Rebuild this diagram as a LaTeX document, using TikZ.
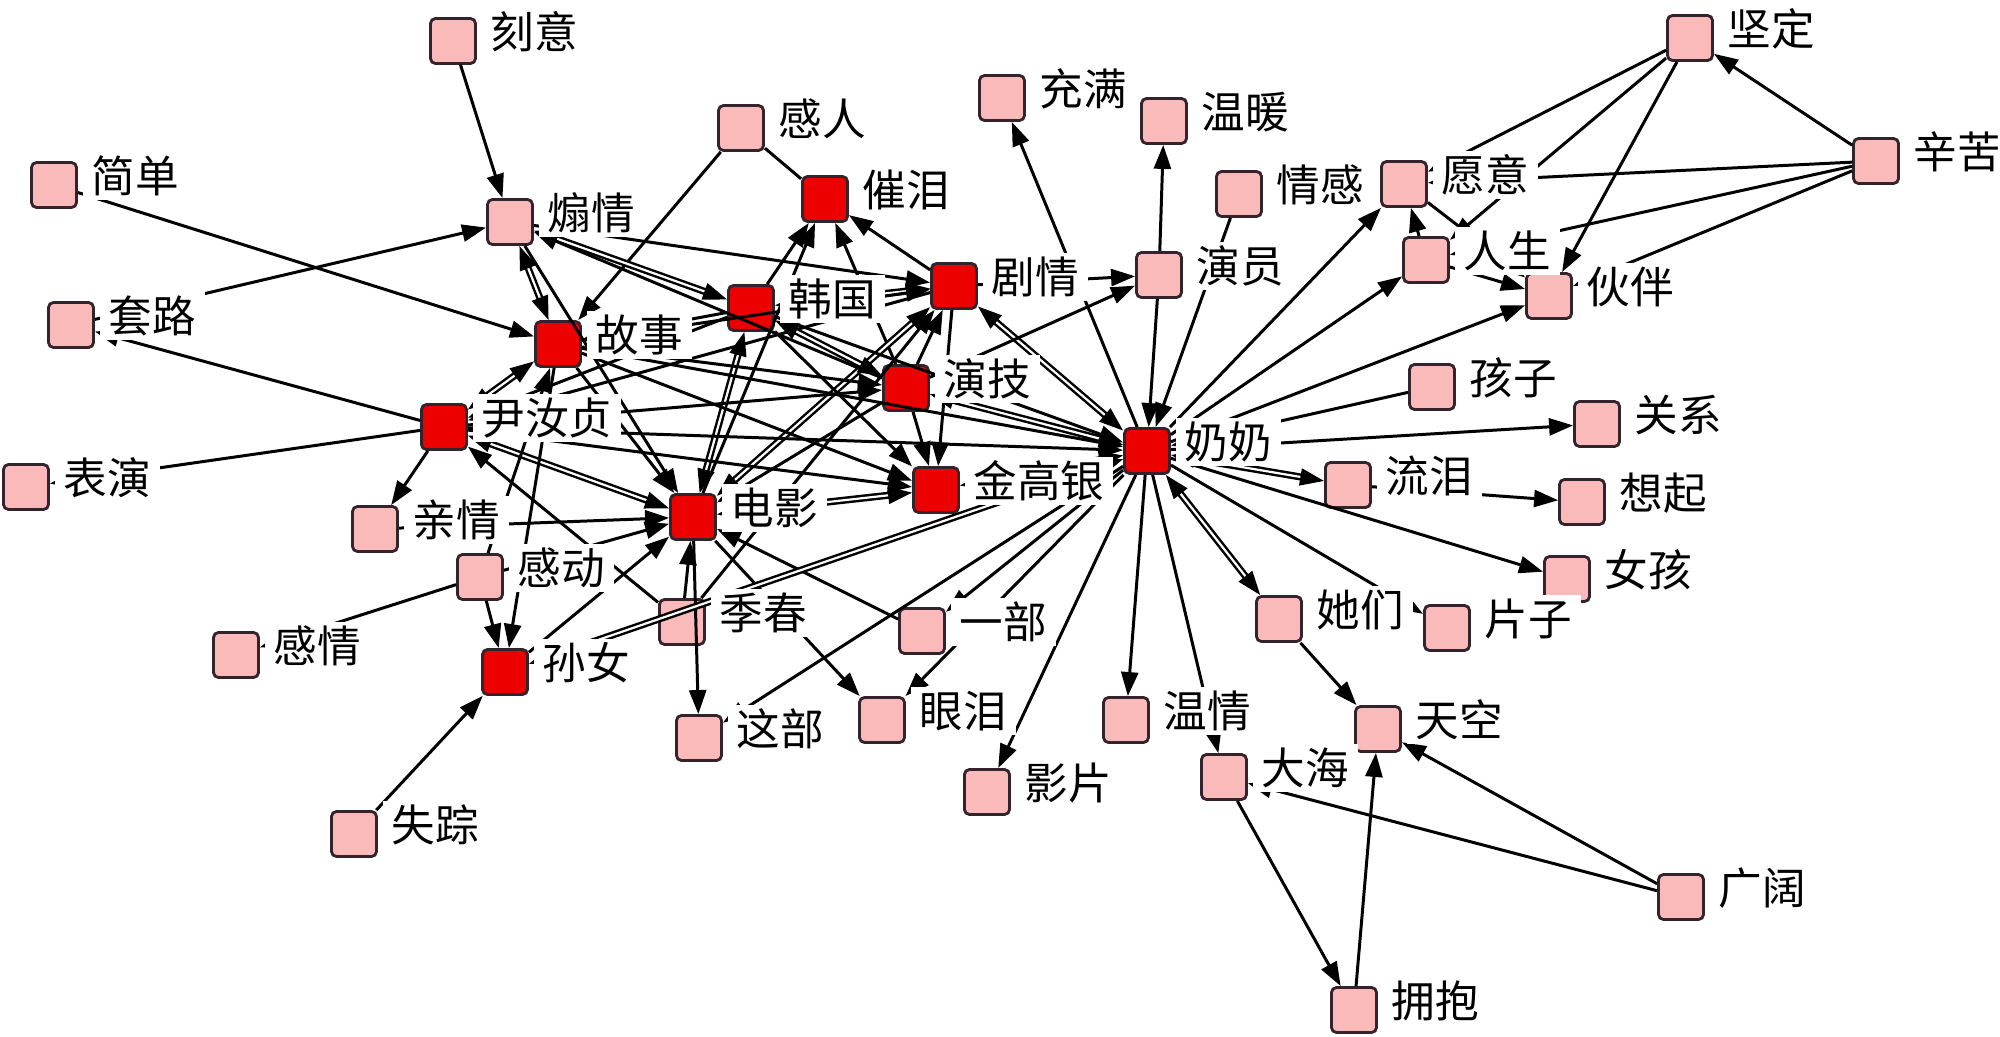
\documentclass[tikz,border=0pt]{standalone}
\usepackage{fontspec}
\newfontfamily\cjk{Noto Sans CJK SC}
\usetikzlibrary{arrows.meta}
\definecolor{pk}{RGB}{250,186,186}
\definecolor{rd}{RGB}{236,0,0}
\definecolor{bd}{RGB}{50,35,45}
\newcommand\lab[2]{\node[lbl] (#1-l) at ([xshift=0.04cm,yshift=0.09cm]#1.east) {#2};}
\begin{document}
\begin{tikzpicture}[x=0.01cm,y=-0.01cm,
  nd/.style={rectangle,draw=bd,line width=0.8pt,rounded corners=0.05cm,minimum size=0.45cm,inner sep=0,fill=pk},
  hub/.style={nd,fill=rd},
  lbl/.style={anchor=west,fill=white,inner xsep=0.09cm,inner ysep=0.04cm,font=\cjk\fontsize{12.4pt}{13pt}\selectfont,text=black},
  e/.style={-{Triangle[length=0.24cm,width=0.17cm]},line width=0.85pt,black},
  ep/.style={line width=0.85pt,black},
  ed/.style={{Triangle[length=0.24cm,width=0.17cm]}-{Triangle[length=0.24cm,width=0.17cm]},line width=0.7pt,double=white,double distance=0.022cm},
]
\useasboundingbox[fill=white] (0,0) rectangle (2000,1037);
% nodes
\node[nd] (keyi) at (453,41) {};
\node[nd] (jiandan) at (54,185) {};
\node[nd] (taolu) at (71,325) {};
\node[nd] (shanqing) at (510,222) {};
\node[nd] (ganren) at (741,128) {};
\node[hub] (cuilei) at (825,199) {};
\node[hub] (hanguo) at (751,308) {};
\node[hub] (juqing) at (954,286) {};
\node[hub] (gushi) at (558,344) {};
\node[hub] (yin) at (444,427) {};
\node[nd] (biaoyan) at (26,487) {};
\node[nd] (qinqing) at (375,529) {};
\node[nd] (gandong) at (480,577) {};
\node[nd] (ganqing) at (236,655) {};
\node[hub] (sunnv) at (505,672) {};
\node[nd] (shizong) at (354,834) {};
\node[hub] (dianying) at (693,517) {};
\node[nd] (jichun) at (682,622) {};
\node[hub] (yanji) at (906,388) {};
\node[hub] (jin) at (936,490) {};
\node[nd] (yibu) at (922,631) {};
\node[nd] (zhebu) at (699,738) {};
\node[nd] (yanlei) at (882,720) {};
\node[nd] (yingpian) at (987,792) {};
\node[nd] (wenqing) at (1126,720) {};
\node[nd] (dahai) at (1224,777) {};
\node[nd] (tiankong) at (1378,729) {};
\node[nd] (yongbao) at (1354,1010) {};
\node[nd] (guangkuo) at (1681,897) {};
\node[hub] (nainai) at (1147,451) {};
\node[nd] (haizi) at (1432,387) {};
\node[nd] (liulei) at (1348,485) {};
\node[nd] (tamen) at (1279,619) {};
\node[nd] (pianzi) at (1447,628) {};
\node[nd] (guanxi) at (1597,424) {};
\node[nd] (xiangqi) at (1582,502) {};
\node[nd] (nvhai) at (1567,579) {};
\node[nd] (yanyuan) at (1159,275) {};
\node[nd] (chongman) at (1002,98) {};
\node[nd] (wennuan) at (1164,121) {};
\node[nd] (qinggan) at (1239,194) {};
\node[nd] (yuanyi) at (1404,184) {};
\node[nd] (rensheng) at (1426,260) {};
\node[nd] (jianding) at (1690,38) {};
\node[nd] (xinku) at (1876,161) {};
\node[nd] (huoban) at (1549,296) {};
% edges
\draw[e] (keyi) -- (shanqing);
\draw[e] (taolu) -- (shanqing);
\draw[e] (jiandan) -- (gushi);
\draw[e] (yin) -- (taolu);
\draw[e] (yin) -- (biaoyan);
\draw[ep] (ganren) -- (cuilei);
\draw[e] (ganren) -- (gushi);
\draw[ed] (gushi) -- (shanqing);
\draw[ed] (hanguo) -- (shanqing);
\draw[e] (yanji) -- (shanqing);
\draw[e] (shanqing) -- (juqing);
\draw[e] (hanguo) -- (cuilei);
\draw[e] (juqing) -- (cuilei);
\draw[e] (yanji) -- (cuilei);
\draw[e] (dianying) -- (cuilei);
\draw[ed] (hanguo) -- (juqing);
\draw[e] (gushi) -- (juqing);
\draw[e] (yanji) -- (juqing);
\draw[e] (juqing) -- (jin);
\draw[ed] (dianying) -- (juqing);
\draw[e] (jichun) -- (juqing);
\draw[e] (juqing) -- (yin);
\draw[e] (hanguo) -- (gushi);
\draw[e] (hanguo) -- (yin);
\draw[ed] (juqing) -- (nainai);
\draw[e] (juqing) -- (yanyuan);
\draw[e] (yanji) -- (yanyuan);
\draw[e] (yanyuan) -- (wennuan);
\draw[e] (yanyuan) -- (nainai);
\draw[e] (qinggan) -- (nainai);
\draw[e] (nainai) -- (chongman);
\draw[e] (nainai) -- (yuanyi);
\draw[e] (nainai) -- (rensheng);
\draw[e] (rensheng) -- (yuanyi);
\draw[e] (nainai) -- (huoban);
\draw[e] (rensheng) -- (huoban);
\draw[e] (yuanyi) -- (huoban);
\draw[e] (jianding) -- (huoban);
\draw[e] (xinku) -- (jianding);
\draw[e] (jianding) -- (yuanyi);
\draw[e] (jianding) -- (rensheng);
\draw[e] (xinku) -- (yuanyi);
\draw[e] (xinku) -- (rensheng);
\draw[e] (xinku) -- (huoban);
\draw[e] (haizi) -- (nainai);
\draw[e] (nainai) -- (guanxi);
\draw[ed] (nainai) -- (liulei);
\draw[e] (liulei) -- (xiangqi);
\draw[e] (nainai) -- (nvhai);
\draw[e] (nainai) -- (pianzi);
\draw[ed] (nainai) -- (tamen);
\draw[e] (tamen) -- (tiankong);
\draw[e] (nainai) -- (wenqing);
\draw[e] (nainai) -- (dahai);
\draw[e] (nainai) -- (yingpian);
\draw[e] (guangkuo) -- (tiankong);
\draw[e] (guangkuo) -- (dahai);
\draw[e] (dahai) -- (yongbao);
\draw[e] (yongbao) -- (tiankong);
\draw[e] (jichun) -- (dianying);
\draw[e] (dianying) -- (zhebu);
\draw[e] (yibu) -- (dianying);
\draw[e] (dianying) -- (yanlei);
\draw[e] (nainai) -- (yanlei);
\draw[e] (nainai) -- (zhebu);
\draw[e] (nainai) -- (yibu);
\draw[ed] (sunnv) -- (nainai);
\draw[ed] (dianying) -- (jin);
\draw[e] (gushi) -- (dianying);
\draw[e] (shanqing) -- (dianying);
\draw[ed] (hanguo) -- (dianying);
\draw[ed] (yin) -- (dianying);
\draw[e] (qinqing) -- (dianying);
\draw[e] (gandong) -- (dianying);
\draw[e] (sunnv) -- (dianying);
\draw[ed] (yin) -- (gushi);
\draw[e] (yin) -- (qinqing);
\draw[e] (jichun) -- (yin);
\draw[e] (gandong) -- (sunnv);
\draw[e] (gandong) -- (ganqing);
\draw[e] (shizong) -- (sunnv);
\draw[e] (gandong) -- (gushi);
\draw[e] (gushi) -- (sunnv);
\draw[e] (yanji) -- (jin);
\draw[e] (gushi) -- (jin);
\draw[e] (yin) -- (jin);
\draw[e] (hanguo) -- (jin);
\draw[ed] (jin) -- (nainai);
\draw[e] (gushi) -- (yanji);
\draw[ed] (hanguo) -- (yanji);
\draw[e] (yin) -- (yanji);
\draw[ed] (yanji) -- (nainai);
\draw[e] (hanguo) -- (nainai);
\draw[e] (gushi) -- (nainai);
\draw[e] (yin) -- (nainai);
\draw[e] (yanji) -- (dianying);
% labels
\lab{keyi}{刻意}
\lab{jiandan}{简单}
\lab{taolu}{套路}
\lab{shanqing}{煽情}
\lab{ganren}{感人}
\lab{cuilei}{催泪}
\lab{hanguo}{韩国}
\lab{juqing}{剧情}
\lab{gushi}{故事}
\lab{yin}{尹汝贞}
\lab{biaoyan}{表演}
\lab{qinqing}{亲情}
\lab{gandong}{感动}
\lab{ganqing}{感情}
\lab{sunnv}{孙女}
\lab{shizong}{失踪}
\lab{dianying}{电影}
\lab{jichun}{季春}
\lab{yanji}{演技}
\lab{jin}{金高银}
\lab{yibu}{一部}
\lab{zhebu}{这部}
\lab{yanlei}{眼泪}
\lab{yingpian}{影片}
\lab{wenqing}{温情}
\lab{dahai}{大海}
\lab{tiankong}{天空}
\lab{yongbao}{拥抱}
\lab{guangkuo}{广阔}
\lab{nainai}{奶奶}
\lab{haizi}{孩子}
\lab{liulei}{流泪}
\lab{tamen}{她们}
\lab{pianzi}{片子}
\lab{guanxi}{关系}
\lab{xiangqi}{想起}
\lab{nvhai}{女孩}
\lab{yanyuan}{演员}
\lab{chongman}{充满}
\lab{wennuan}{温暖}
\lab{qinggan}{情感}
\lab{yuanyi}{愿意}
\lab{rensheng}{人生}
\lab{jianding}{坚定}
\lab{xinku}{辛苦}
\lab{huoban}{伙伴}
\end{tikzpicture}
\end{document}
